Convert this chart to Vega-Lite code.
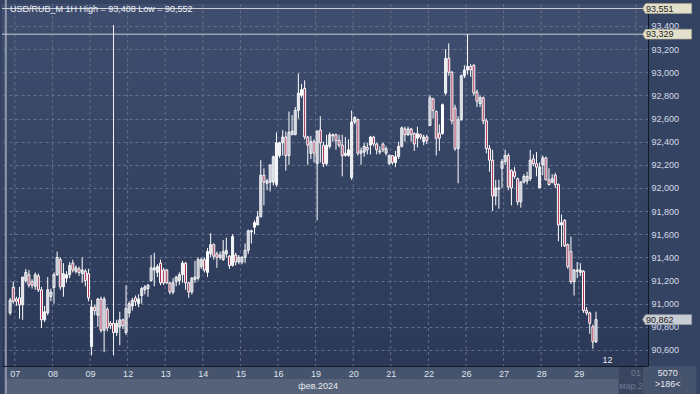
{
"$schema": "https://vega.github.io/schema/vega-lite/v6.json",
"width": 646, "height": 362,
"autosize": {"type": "none"},
"padding": {"left": 2, "top": 4, "right": 52, "bottom": 28},
"background": "#354363",
"config": {
  "view": {"stroke": null, "fill": {"gradient": "linear", "x1": 0, "y1": 0, "x2": 0, "y2": 1, "stops": [{"offset": 0, "color": "#3f4e6f"}, {"offset": 1, "color": "#2b3857"}]}},
  "text": {"font": "Liberation Sans", "fontSize": 9},
  "axis": {"labelOverlap": false, "labelSeparation": 0, "title": null},
  "axisY": {"labelOverlap": false}
},
"datasets": {
  "days": [{"d":"07","i":-0.5},{"d":"08","i":11.5},{"d":"09","i":23.5},{"d":"12","i":35.5},{"d":"13","i":47.5},{"d":"14","i":59.5},{"d":"15","i":71.5},{"d":"16","i":83.5},{"d":"19","i":95.5},{"d":"20","i":107.5},{"d":"21","i":119.5},{"d":"22","i":131.5},{"d":"26","i":143.5},{"d":"27","i":155.5},{"d":"28","i":167.5},{"d":"29","i":179.5},{"d":"01","i":197.8}],
  "tags": [{"k":"lvl","p":93.551,"t":"93,551"},{"k":"lvl","p":93.329,"t":"93,329"},{"k":"last","p":90.862,"t":"90,862"}],
  "candles": [
{"i":-2,"o":90.92,"h":91.05,"l":90.90,"c":91.03},
{"i":-1,"o":91.14,"h":91.19,"l":91.00,"c":91.02},
{"i":0,"o":91.04,"h":91.06,"l":90.98,"c":91.02},
{"i":1,"o":91.05,"h":91.145,"l":90.87,"c":90.99},
{"i":2,"o":90.99,"h":91.23,"l":90.86,"c":91.23},
{"i":3,"o":91.20,"h":91.30,"l":91.18,"c":91.27},
{"i":4,"o":91.25,"h":91.29,"l":91.14,"c":91.16},
{"i":5,"o":91.19,"h":91.21,"l":91.13,"c":91.16},
{"i":6,"o":91.15,"h":91.27,"l":91.12,"c":91.25},
{"i":7,"o":91.24,"h":91.26,"l":91.10,"c":91.12},
{"i":8,"o":91.12,"h":91.145,"l":90.79,"c":90.86},
{"i":9,"o":90.86,"h":90.98,"l":90.84,"c":90.93},
{"i":10,"o":90.92,"h":91.23,"l":90.90,"c":91.12},
{"i":11,"o":91.06,"h":91.13,"l":91.02,"c":91.10},
{"i":12,"o":91.14,"h":91.27,"l":91.00,"c":91.25},
{"i":13,"o":91.25,"h":91.45,"l":91.24,"c":91.40},
{"i":14,"o":91.38,"h":91.40,"l":91.12,"c":91.145},
{"i":15,"o":91.145,"h":91.35,"l":91.06,"c":91.26},
{"i":16,"o":91.22,"h":91.28,"l":91.18,"c":91.25},
{"i":17,"o":91.25,"h":91.36,"l":91.22,"c":91.33},
{"i":18,"o":91.35,"h":91.38,"l":91.27,"c":91.29},
{"i":19,"o":91.28,"h":91.33,"l":91.26,"c":91.31},
{"i":20,"o":91.30,"h":91.32,"l":91.24,"c":91.27},
{"i":21,"o":91.26,"h":91.40,"l":91.18,"c":91.29},
{"i":22,"o":91.28,"h":91.30,"l":91.15,"c":91.20},
{"i":23,"o":91.26,"h":91.30,"l":91.02,"c":91.05},
{"i":24,"o":90.63,"h":91.03,"l":90.552,"c":90.97},
{"i":25,"o":90.97,"h":90.99,"l":90.90,"c":90.94},
{"i":26,"o":90.90,"h":91.05,"l":90.80,"c":91.04},
{"i":27,"o":91.04,"h":91.06,"l":90.75,"c":90.77},
{"i":28,"o":90.77,"h":91.06,"l":90.58,"c":91.04},
{"i":29,"o":90.95,"h":90.97,"l":90.76,"c":90.79},
{"i":30,"o":90.83,"h":90.85,"l":90.78,"c":90.81},
{"i":31,"o":90.83,"h":90.85,"l":90.70,"c":90.75},
{"i":32,"o":90.75,"h":90.86,"l":90.72,"c":90.83},
{"i":33,"o":90.80,"h":90.93,"l":90.64,"c":90.86},
{"i":34,"o":90.86,"h":90.87,"l":90.78,"c":90.81},
{"i":35,"o":90.75,"h":91.16,"l":90.73,"c":90.96},
{"i":36,"o":90.92,"h":91.02,"l":90.88,"c":91.00},
{"i":37,"o":90.98,"h":91.05,"l":90.94,"c":91.03},
{"i":38,"o":91.05,"h":91.07,"l":90.98,"c":91.02},
{"i":39,"o":91.00,"h":91.08,"l":90.97,"c":91.04},
{"i":40,"o":91.07,"h":91.145,"l":91.00,"c":91.13},
{"i":41,"o":91.12,"h":91.16,"l":91.08,"c":91.145},
{"i":42,"o":91.13,"h":91.17,"l":91.06,"c":91.16},
{"i":43,"o":91.20,"h":91.42,"l":91.19,"c":91.31},
{"i":44,"o":91.29,"h":91.44,"l":91.15,"c":91.31},
{"i":45,"o":91.27,"h":91.34,"l":91.23,"c":91.32},
{"i":46,"o":91.35,"h":91.38,"l":91.16,"c":91.18},
{"i":47,"o":91.29,"h":91.31,"l":91.16,"c":91.18},
{"i":48,"o":91.29,"h":91.30,"l":91.17,"c":91.18},
{"i":49,"o":91.18,"h":91.19,"l":91.08,"c":91.10},
{"i":50,"o":91.10,"h":91.22,"l":91.08,"c":91.18},
{"i":51,"o":91.19,"h":91.24,"l":91.15,"c":91.23},
{"i":52,"o":91.20,"h":91.27,"l":91.16,"c":91.25},
{"i":53,"o":91.25,"h":91.37,"l":91.18,"c":91.35},
{"i":54,"o":91.35,"h":91.36,"l":91.12,"c":91.18},
{"i":55,"o":91.18,"h":91.19,"l":91.05,"c":91.10},
{"i":56,"o":91.10,"h":91.23,"l":91.08,"c":91.22},
{"i":57,"o":91.21,"h":91.37,"l":91.18,"c":91.23},
{"i":58,"o":91.22,"h":91.40,"l":91.20,"c":91.38},
{"i":59,"o":91.32,"h":91.40,"l":91.30,"c":91.38},
{"i":60,"o":91.38,"h":91.40,"l":91.27,"c":91.29},
{"i":61,"o":91.27,"h":91.48,"l":91.23,"c":91.45},
{"i":62,"o":91.43,"h":91.61,"l":91.40,"c":91.51},
{"i":63,"o":91.51,"h":91.52,"l":91.38,"c":91.41},
{"i":64,"o":91.43,"h":91.45,"l":91.31,"c":91.40},
{"i":65,"o":91.40,"h":91.45,"l":91.38,"c":91.42},
{"i":66,"o":91.38,"h":91.55,"l":91.37,"c":91.45},
{"i":67,"o":91.43,"h":91.57,"l":91.40,"c":91.46},
{"i":68,"o":91.41,"h":91.42,"l":91.30,"c":91.33},
{"i":69,"o":91.33,"h":91.60,"l":91.32,"c":91.58},
{"i":70,"o":91.42,"h":91.44,"l":91.33,"c":91.36},
{"i":71,"o":91.36,"h":91.42,"l":91.34,"c":91.40},
{"i":72,"o":91.36,"h":91.41,"l":91.34,"c":91.40},
{"i":73,"o":91.40,"h":91.52,"l":91.35,"c":91.46},
{"i":74,"o":91.46,"h":91.64,"l":91.43,"c":91.63},
{"i":75,"o":91.62,"h":91.64,"l":91.52,"c":91.63},
{"i":76,"o":91.66,"h":91.72,"l":91.60,"c":91.70},
{"i":77,"o":91.68,"h":91.80,"l":91.68,"c":91.75},
{"i":78,"o":91.75,"h":92.24,"l":91.75,"c":92.11},
{"i":79,"o":92.11,"h":92.17,"l":91.85,"c":92.05},
{"i":80,"o":92.04,"h":92.08,"l":91.98,"c":92.06},
{"i":81,"o":92.05,"h":92.20,"l":91.97,"c":92.20},
{"i":82,"o":92.05,"h":92.28,"l":92.02,"c":92.27},
{"i":83,"o":92.03,"h":92.48,"l":92.01,"c":92.39},
{"i":84,"o":92.28,"h":92.40,"l":92.26,"c":92.39},
{"i":85,"o":92.39,"h":92.50,"l":92.28,"c":92.44},
{"i":86,"o":92.44,"h":92.49,"l":92.15,"c":92.28},
{"i":87,"o":92.28,"h":92.66,"l":92.20,"c":92.48},
{"i":88,"o":92.46,"h":92.63,"l":92.46,"c":92.49},
{"i":89,"o":92.46,"h":92.70,"l":92.46,"c":92.67},
{"i":90,"o":92.67,"h":92.99,"l":92.60,"c":92.82},
{"i":91,"o":92.80,"h":92.90,"l":92.78,"c":92.85},
{"i":92,"o":92.86,"h":92.93,"l":92.42,"c":92.44},
{"i":93,"o":92.44,"h":92.45,"l":92.20,"c":92.37},
{"i":94,"o":92.30,"h":92.45,"l":92.25,"c":92.40},
{"i":95,"o":92.40,"h":92.42,"l":92.22,"c":92.30},
{"i":96,"o":92.21,"h":92.50,"l":91.72,"c":92.49},
{"i":97,"o":92.50,"h":92.62,"l":92.22,"c":92.39},
{"i":98,"o":92.37,"h":92.40,"l":92.18,"c":92.21},
{"i":99,"o":92.21,"h":92.46,"l":92.19,"c":92.37},
{"i":100,"o":92.36,"h":92.48,"l":92.34,"c":92.46},
{"i":101,"o":92.45,"h":92.47,"l":92.40,"c":92.46},
{"i":102,"o":92.46,"h":92.47,"l":92.33,"c":92.41},
{"i":103,"o":92.41,"h":92.46,"l":92.35,"c":92.37},
{"i":104,"o":92.37,"h":92.46,"l":92.10,"c":92.28},
{"i":105,"o":92.28,"h":92.44,"l":92.27,"c":92.30},
{"i":106,"o":92.28,"h":92.42,"l":92.27,"c":92.33},
{"i":107,"o":92.09,"h":92.67,"l":92.07,"c":92.57},
{"i":108,"o":92.57,"h":92.62,"l":92.55,"c":92.61},
{"i":109,"o":92.59,"h":92.60,"l":92.28,"c":92.30},
{"i":110,"o":92.30,"h":92.35,"l":92.20,"c":92.32},
{"i":111,"o":92.31,"h":92.39,"l":92.27,"c":92.36},
{"i":112,"o":92.35,"h":92.39,"l":92.29,"c":92.33},
{"i":113,"o":92.37,"h":92.45,"l":92.29,"c":92.44},
{"i":114,"o":92.44,"h":92.45,"l":92.36,"c":92.38},
{"i":115,"o":92.38,"h":92.39,"l":92.29,"c":92.33},
{"i":116,"o":92.31,"h":92.36,"l":92.29,"c":92.32},
{"i":117,"o":92.38,"h":92.39,"l":92.31,"c":92.33},
{"i":118,"o":92.30,"h":92.36,"l":92.28,"c":92.34},
{"i":119,"o":92.21,"h":92.29,"l":92.20,"c":92.28},
{"i":120,"o":92.28,"h":92.28,"l":92.20,"c":92.22},
{"i":121,"o":92.22,"h":92.32,"l":92.18,"c":92.27},
{"i":122,"o":92.27,"h":92.40,"l":92.25,"c":92.36},
{"i":123,"o":92.36,"h":92.53,"l":92.35,"c":92.52},
{"i":124,"o":92.51,"h":92.53,"l":92.40,"c":92.46},
{"i":125,"o":92.46,"h":92.53,"l":92.45,"c":92.51},
{"i":126,"o":92.51,"h":92.52,"l":92.40,"c":92.46},
{"i":127,"o":92.47,"h":92.48,"l":92.32,"c":92.38},
{"i":128,"o":92.43,"h":92.53,"l":92.35,"c":92.47},
{"i":129,"o":92.46,"h":92.47,"l":92.42,"c":92.44},
{"i":130,"o":92.40,"h":92.46,"l":92.37,"c":92.44},
{"i":131,"o":92.44,"h":92.46,"l":92.38,"c":92.41},
{"i":132,"o":92.54,"h":92.80,"l":92.54,"c":92.78},
{"i":133,"o":92.77,"h":92.78,"l":92.60,"c":92.67},
{"i":134,"o":92.66,"h":92.67,"l":92.28,"c":92.43},
{"i":135,"o":92.47,"h":92.55,"l":92.32,"c":92.43},
{"i":136,"o":92.47,"h":92.73,"l":92.46,"c":92.72},
{"i":137,"o":92.82,"h":93.20,"l":92.80,"c":93.12},
{"i":138,"o":93.12,"h":93.25,"l":92.97,"c":93.00},
{"i":139,"o":93.00,"h":93.01,"l":92.55,"c":92.58},
{"i":140,"o":92.69,"h":92.72,"l":92.32,"c":92.34},
{"i":141,"o":92.34,"h":92.62,"l":92.04,"c":92.59},
{"i":142,"o":92.59,"h":92.98,"l":92.58,"c":92.97},
{"i":143,"o":92.97,"h":93.06,"l":92.95,"c":93.02},
{"i":144,"o":93.02,"h":93.329,"l":92.98,"c":93.05},
{"i":145,"o":93.05,"h":93.07,"l":92.96,"c":93.02},
{"i":146,"o":93.06,"h":93.07,"l":92.80,"c":92.82},
{"i":147,"o":92.83,"h":92.85,"l":92.70,"c":92.75},
{"i":148,"o":92.73,"h":92.80,"l":92.70,"c":92.78},
{"i":149,"o":92.78,"h":92.79,"l":92.55,"c":92.58},
{"i":150,"o":92.58,"h":92.60,"l":92.30,"c":92.34},
{"i":151,"o":92.34,"h":92.37,"l":92.14,"c":92.24},
{"i":152,"o":92.24,"h":92.33,"l":91.80,"c":91.93},
{"i":153,"o":91.93,"h":92.07,"l":91.85,"c":92.00},
{"i":154,"o":91.99,"h":92.07,"l":91.82,"c":92.00},
{"i":155,"o":92.17,"h":92.25,"l":92.00,"c":92.23},
{"i":156,"o":92.23,"h":92.33,"l":92.20,"c":92.28},
{"i":157,"o":92.28,"h":92.30,"l":91.98,"c":92.01},
{"i":158,"o":92.15,"h":92.16,"l":91.85,"c":92.00},
{"i":159,"o":92.14,"h":92.18,"l":92.08,"c":92.10},
{"i":160,"o":92.08,"h":92.09,"l":91.85,"c":91.88},
{"i":161,"o":91.88,"h":92.06,"l":91.83,"c":92.05},
{"i":162,"o":92.05,"h":92.12,"l":92.04,"c":92.10},
{"i":163,"o":92.06,"h":92.14,"l":92.03,"c":92.10},
{"i":164,"o":92.08,"h":92.33,"l":92.06,"c":92.24},
{"i":165,"o":92.25,"h":92.29,"l":92.19,"c":92.21},
{"i":166,"o":92.21,"h":92.31,"l":92.10,"c":92.18},
{"i":167,"o":92.00,"h":92.22,"l":92.00,"c":92.18},
{"i":168,"o":92.20,"h":92.28,"l":92.11,"c":92.26},
{"i":169,"o":92.26,"h":92.27,"l":92.07,"c":92.07},
{"i":170,"o":92.07,"h":92.17,"l":92.02,"c":92.03},
{"i":171,"o":92.05,"h":92.12,"l":92.04,"c":92.08},
{"i":172,"o":92.11,"h":92.13,"l":92.00,"c":92.03},
{"i":173,"o":92.03,"h":92.04,"l":91.54,"c":91.68},
{"i":174,"o":91.68,"h":91.77,"l":91.49,"c":91.70},
{"i":175,"o":91.72,"h":91.73,"l":91.49,"c":91.50},
{"i":176,"o":91.51,"h":91.52,"l":91.30,"c":91.32},
{"i":177,"o":91.45,"h":91.58,"l":91.17,"c":91.19},
{"i":178,"o":91.19,"h":91.30,"l":91.07,"c":91.29},
{"i":179,"o":91.28,"h":91.36,"l":91.22,"c":91.29},
{"i":180,"o":91.27,"h":91.35,"l":91.24,"c":91.29},
{"i":181,"o":91.28,"h":91.29,"l":90.92,"c":90.94},
{"i":182,"o":90.94,"h":90.97,"l":90.90,"c":90.92},
{"i":183,"o":90.92,"h":90.93,"l":90.74,"c":90.83},
{"i":184,"o":90.80,"h":90.82,"l":90.61,"c":90.67},
{"i":185,"o":90.67,"h":90.93,"l":90.66,"c":90.862}
  ]
},
"layer": [
  {"data": {"name": "days"},
   "mark": {"type": "rule", "color": "#63708c", "strokeDash": [3, 3], "strokeWidth": 1},
   "encoding": {"x": {"field": "i", "type": "quantitative",
      "scale": {"domain": [-3, 200], "nice": false, "zero": false},
      "axis": {"orient": "bottom", "values": [-0.5, 11.5, 23.5, 35.5, 47.5, 59.5, 71.5, 83.5, 95.5, 107.5, 119.5, 131.5, 143.5, 155.5, 167.5, 179.5],
        "labelExpr": "['07','08','09','12','13','14','15','16','19','20','21','22','26','27','28','29'][round((datum.value+0.5)/12)]",
        "grid": false, "ticks": false, "domain": true, "domainColor": "#121826", "domainWidth": 1,
        "labelColor": "#dfe4ec", "labelFont": "Liberation Sans", "labelFontSize": 9, "labelPadding": 3, "labelBaseline": "top",
        "labelFlush": false, "labelOverlap": false, "labelBound": false, "title": null, "zindex": 1}}}},
  {"data": {"values": [{}]}, "mark": {"type": "rect", "color": "#46536d"},
   "encoding": {"x": {"datum": -3.7}, "x2": {"datum": 217}, "y": {"datum": 90.461}, "y2": {"datum": 90.349}}},
  {"data": {"values": [{}]}, "mark": {"type": "rect", "color": "#56627a"},
   "encoding": {"x": {"datum": -3.7}, "x2": {"datum": 200}, "y": {"datum": 90.349}, "y2": {"datum": 90.19}}},
  {"data": {"values": [{}]}, "mark": {"type": "rect", "color": "#46536d"},
   "encoding": {"x": {"datum": 200}, "x2": {"datum": 217}, "y": {"datum": 90.349}, "y2": {"datum": 90.19}}},
  {"data": {"values": [{}]}, "mark": {"type": "rect", "color": "#3a4660"},
   "encoding": {"x": {"datum": 192.2}, "x2": {"datum": 200}, "y": {"datum": 90.458}, "y2": {"datum": 90.19}}},
  {"data": {"values": [{}]}, "mark": {"type": "rect", "color": "#8e97aa"},
   "encoding": {"x": {"datum": -3.7}, "x2": {"datum": -3.05}, "y": {"datum": 93.65}, "y2": {"datum": 90.19}}},
  {"data": {"values": [{}]}, "mark": {"type": "rule", "color": "#c9ccd3", "strokeWidth": 1},
   "encoding": {"y": {"datum": 93.551}}},
  {"data": {"values": [{}]}, "mark": {"type": "rule", "color": "#c9ccd3", "strokeWidth": 1},
   "encoding": {"y": {"datum": 93.329}}},
  {"data": {"values": [{}]}, "mark": {"type": "rule", "color": "#f2f4f8", "strokeWidth": 1},
   "encoding": {"x": {"datum": 31}, "y": {"datum": 93.408}, "y2": {"datum": 90.552}}},
  {"data": {"name": "candles"},
   "mark": {"type": "rule", "color": "#ffffff", "strokeWidth": 1},
   "encoding": {"x": {"field": "i", "type": "quantitative"},
     "y": {"field": "l", "type": "quantitative",
       "scale": {"domain": [90.461, 93.59], "nice": false, "zero": false},
       "axis": {"orient": "right", "values": [90.6, 90.8, 91.0, 91.2, 91.4, 91.6, 91.8, 92.0, 92.2, 92.4, 92.6, 92.8, 93.0, 93.2, 93.4],
         "tickCount": 15,
         "labelExpr": "replace(format(datum.value, '.3f'), '.', ',')",
         "grid": true, "gridColor": "#63708c", "gridDash": [3, 3], "gridWidth": 1,
         "ticks": false, "domain": true, "domainColor": "#121826", "domainWidth": 1,
         "labelColor": "#d5dbe6", "labelFont": "Liberation Sans", "labelFontSize": 9, "labelPadding": 3,
         "labelAlign": "left", "labelBaseline": "middle", "labelFlush": false, "labelBound": false, "labelOverlap": false, "labelSeparation": 0, "title": null, "zindex": 0}},
     "y2": {"field": "h"}}},
  {"data": {"name": "candles"},
   "mark": {"type": "bar", "size": 2, "stroke": "#ffffff", "strokeWidth": 1},
   "encoding": {"x": {"field": "i", "type": "quantitative"},
     "y": {"field": "o", "type": "quantitative"}, "y2": {"field": "c"},
     "fill": {"condition": {"test": "datum.c < datum.o", "value": "#a32c4f"}, "value": "transparent"}}},
  {"data": {"name": "tags"},
   "mark": {"type": "point", "shape": "M-1,0L-0.88,-0.2L1,-0.2L1,0.2L-0.88,0.2Z", "size": 2401, "filled": true, "opacity": 1, "strokeWidth": 0.7},
   "encoding": {"x": {"datum": 207.7}, "y": {"field": "p", "type": "quantitative"},
     "fill": {"condition": {"test": "datum.k == 'last'", "value": "#c9cdd5"}, "value": "#e3e1cb"},
     "stroke": {"condition": {"test": "datum.k == 'last'", "value": "#9ba0aa"}, "value": "#a9a791"}}},
  {"data": {"name": "tags"},
   "mark": {"type": "text", "align": "left", "baseline": "middle", "color": "#1b1b1b", "fontSize": 9, "font": "Liberation Sans"},
   "encoding": {"x": {"datum": 200.96}, "y": {"field": "p", "type": "quantitative"}, "text": {"field": "t"}}},
  {"data": {"values": [{}]},
   "mark": {"type": "text", "align": "left", "baseline": "middle", "color": "#eef1f5", "fontSize": 9, "font": "Liberation Sans"},
   "encoding": {"x": {"datum": -2.06}, "y": {"datum": 93.547}, "text": {"value": "USD/RUB_M 1H High = 93,408 Low = 90,552"}}},
  {"data": {"values": [{}]},
   "mark": {"type": "text", "align": "center", "baseline": "middle", "color": "#e6eaf0", "fontSize": 9, "font": "Liberation Sans"},
   "encoding": {"x": {"datum": 188.7}, "y": {"datum": 90.513}, "text": {"value": "12"}}},
  {"data": {"values": [{}]},
   "mark": {"type": "text", "align": "center", "baseline": "middle", "color": "#e6eaf0", "fontSize": 9, "font": "Liberation Sans"},
   "encoding": {"x": {"datum": 96.3}, "y": {"datum": 90.288}, "text": {"value": "фев.2024"}}},
  {"data": {"values": [{}]},
   "mark": {"type": "text", "align": "center", "baseline": "middle", "color": "#e6eaf0", "fontSize": 9, "font": "Liberation Sans"},
   "encoding": {"x": {"datum": 207.9}, "y": {"datum": 90.403}, "text": {"value": "5070"}}},
  {"data": {"values": [{}]},
   "mark": {"type": "text", "align": "center", "baseline": "middle", "color": "#e6eaf0", "fontSize": 9, "font": "Liberation Sans"},
   "encoding": {"x": {"datum": 207.9}, "y": {"datum": 90.303}, "text": {"value": ">186<"}}},
  {"data": {"values": [{}]},
   "mark": {"type": "text", "align": "center", "baseline": "middle", "color": "#6d7892", "fontSize": 9, "font": "Liberation Sans"},
   "encoding": {"x": {"datum": 197.8}, "y": {"datum": 90.4}, "text": {"value": "01"}}},
  {"data": {"values": [{}]},
   "mark": {"type": "text", "align": "left", "baseline": "middle", "color": "#6d7892", "fontSize": 9, "font": "Liberation Sans"},
   "encoding": {"x": {"datum": 192.45}, "y": {"datum": 90.288}, "text": {"value": "мар.2"}}}
]
}
